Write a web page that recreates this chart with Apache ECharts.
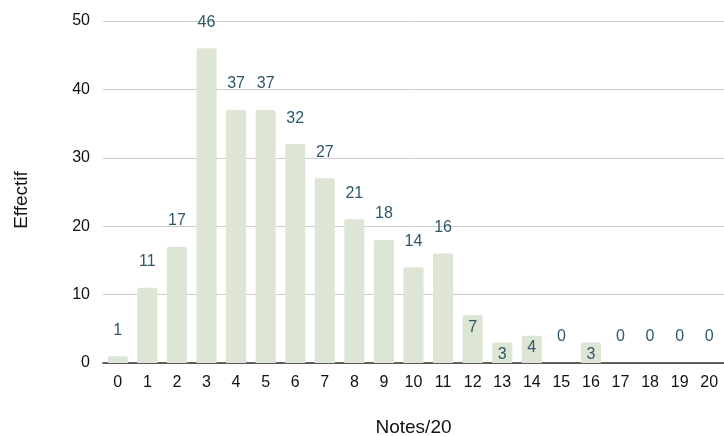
<!DOCTYPE html>
<html><head><meta charset="utf-8">
<script src="https://cdn.jsdelivr.net/npm/echarts@6/dist/echarts.min.js"></script>
<style>html,body{margin:0;padding:0;background:#fff}#c{width:724px;height:436px}</style>
</head><body><div id="c"></div>
<script>
var categories = ['0','1','2','3','4','5','6','7','8','9','10','11','12','13','14','15','16','17','18','19','20'];
var values = [1,11,17,46,37,37,32,27,21,18,14,16,7,3,4,0,3,0,0,0,0];
var yTicks = [0,10,20,30,40,50];
var insideLabelIdx = [12,13,14,16];

var data = values.map(function(v,i){
  var inside = insideLabelIdx.indexOf(i) >= 0;
  return {value:v, label: inside ? {position:'insideTop', distance:4} : {position:'top', distance:18}};
});

var FONT = 'Liberation Sans';
var chart = echarts.init(document.getElementById('c'));
chart.setOption({
  animation:false,
  grid:{left:103, right:0, top:21, bottom:73, outerBoundsMode:'none', containLabel:false},
  xAxis:{
    type:'category', data:categories,
    name:'Notes/20', nameLocation:'middle', nameGap:55,
    nameTextStyle:{fontSize:19, color:'#111', fontFamily:FONT},
    axisLine:{lineStyle:{color:'#333', width:1.5}},
    axisTick:{show:false},
    axisLabel:{fontSize:16, color:'#111', margin:12, fontFamily:FONT},
    splitLine:{show:false}
  },
  yAxis:{
    type:'value', min:0, max:50, interval:10,
    name:'Effectif', nameLocation:'middle', nameGap:72,
    nameTextStyle:{fontSize:19, color:'#111', fontFamily:FONT, padding:[0,16,0,0]},
    axisLabel:{fontSize:16, color:'#111', margin:13, fontFamily:FONT,
      formatter:function(v){return yTicks.indexOf(v)>=0? String(v):'';}},
    splitLine:{lineStyle:{color:'#cccccc'}},
    axisLine:{show:false}, axisTick:{show:false}
  },
  series:[{
    type:'bar', data:data, barCategoryGap:'32%',
    itemStyle:{color:'#dde6d4', borderRadius:[2,2,0,0]},
    label:{show:true, color:'#2e5869', fontSize:16, fontFamily:FONT}
  }]
});
</script></body></html>
